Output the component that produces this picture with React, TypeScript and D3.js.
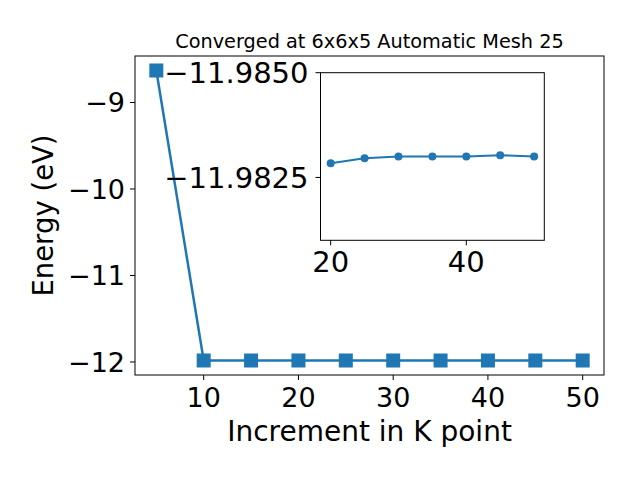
import React from "react";
import * as d3 from "d3";

const kPoints = [5, 10, 15, 20, 25, 30, 35, 40, 45, 50];
const energies = [-8.63, -11.9828, -11.983, -11.9828, -11.983, -11.983, -11.983, -11.983, -11.983, -11.983];
const insetK = [20, 25, 30, 35, 40, 45, 50];
const insetE = [-11.98284, -11.98296, -11.983, -11.983, -11.983, -11.98303, -11.983];
const mainXTicks = [10, 20, 30, 40, 50];
const mainYTicks = [-9, -10, -11, -12];
const insetXTicks = [20, 40];
const insetYTicks = [-11.985, -11.9825];

const title = "Converged at 6x6x5 Automatic Mesh 25";
const xLabel = "Increment in K point";
const yLabel = "Energy (eV)";
const color = "#1f77b4";
const font = "DejaVu Sans, sans-serif";

const fmtMinus = (s: string) => s.replace("-", "\u2212");

export default function App() {
  const W = 640, H = 480;
  const L = 135, R = 604, T = 56, B = 375;
  const xMin = d3.min(kPoints)!, xMax = d3.max(kPoints)!;
  const yMin = d3.min(energies)!, yMax = d3.max(energies)!;
  const xm = (xMax - xMin) * 0.05, ym = (yMax - yMin) * 0.05;
  const x = d3.scaleLinear().domain([xMin - xm, xMax + xm]).range([L, R]);
  const y = d3.scaleLinear().domain([yMin - ym, yMax + ym]).range([B, T]);
  const line = d3.line<number>().x((_, i) => x(kPoints[i])).y((d) => y(d));

  // inset
  const iL = 320.5, iR = 544.3, iT = 72.7, iB = 240.3;
  const ixm = (d3.max(insetK)! - d3.min(insetK)!) * 0.05;
  const ix = d3.scaleLinear().domain([d3.min(insetK)! - ixm, d3.max(insetK)! + ixm]).range([iL, iR]);
  const iy = d3.scaleLinear().domain([-11.985, -11.981]).range([iT, iB]);
  const iline = d3.line<number>().x((_, i) => ix(insetK[i])).y((d) => iy(d));

  const tickFs = 27;
  const insetFs = 29;
  const ms = 14;

  return (
    <svg width={W} height={H} style={{ display: "block", position: "absolute", left: 0, top: 0 }} fontFamily={font}>
      <rect x={0} y={0} width={W} height={H} fill="white" />
      <text x={(L + R) / 2} y={48} textAnchor="middle" fontSize={19.3}>{title}</text>
      {/* main line */}
      <path d={line(energies) || ""} fill="none" stroke={color} strokeWidth={2.5} />
      {energies.map((e, i) => (
        <rect key={i} x={x(kPoints[i]) - ms / 2} y={y(e) - ms / 2} width={ms} height={ms} fill={color} />
      ))}
      <rect x={L} y={T} width={R - L} height={B - T} fill="none" stroke="black" strokeWidth={1} />
      {mainXTicks.map((t) => (
        <g key={t}>
          <line x1={x(t)} x2={x(t)} y1={B} y2={B + 5} stroke="black" />
          <text x={x(t)} y={B + 32} textAnchor="middle" fontSize={tickFs}>{t}</text>
        </g>
      ))}
      {mainYTicks.map((t) => (
        <g key={t}>
          <line x1={L - 5} x2={L} y1={y(t)} y2={y(t)} stroke="black" />
          <text x={L - 10} y={y(t) + tickFs * 0.365} textAnchor="end" fontSize={tickFs}>{fmtMinus(String(t))}</text>
        </g>
      ))}
      <text x={(L + R) / 2} y={441} textAnchor="middle" fontSize={28}>{xLabel}</text>
      <text transform={`translate(53,${(T + B) / 2}) rotate(-90)`} textAnchor="middle" fontSize={27.5}>{yLabel}</text>

      {/* inset */}
      <rect x={iL} y={iT} width={iR - iL} height={iB - iT} fill="white" />
      <path d={iline(insetE) || ""} fill="none" stroke={color} strokeWidth={2} />
      {insetE.map((e, i) => (
        <circle key={i} cx={ix(insetK[i])} cy={iy(e)} r={4} fill={color} />
      ))}
      <rect x={iL} y={iT} width={iR - iL} height={iB - iT} fill="none" stroke="black" strokeWidth={1} />
      {insetXTicks.map((t) => (
        <g key={t}>
          <line x1={ix(t)} x2={ix(t)} y1={iB} y2={iB + 5} stroke="black" />
          <text x={ix(t)} y={iB + 31.5} textAnchor="middle" fontSize={insetFs}>{t}</text>
        </g>
      ))}
      {insetYTicks.map((t) => (
        <g key={t}>
          <line x1={iL - 5} x2={iL} y1={iy(t)} y2={iy(t)} stroke="black" />
          <text x={iL - 12} y={iy(t) + insetFs * 0.365} textAnchor="end" fontSize={insetFs}>{fmtMinus(t.toFixed(4))}</text>
        </g>
      ))}
    </svg>
  );
}
